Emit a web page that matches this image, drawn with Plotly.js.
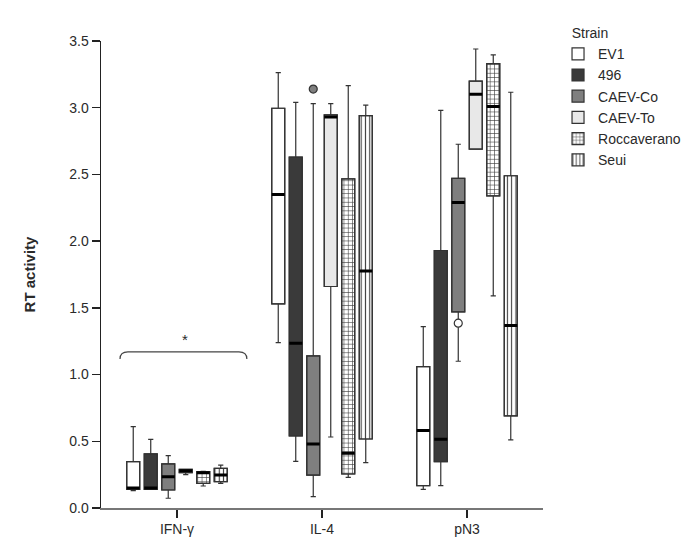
<!DOCTYPE html>
<html>
<head>
<meta charset="utf-8">
<script src="https://cdn.plot.ly/plotly-3.0.1.min.js"></script>
<style>
  body { margin: 0; background: #fff; }
  #chart { width: 685px; height: 554px; }
</style>
</head>
<body>
<div id="chart"></div>
<script>
// categorias y cepas
const cytokines = ['IFN-γ', 'IL-4', 'pN3'];
const strains = ['EV1', '496', 'CAEV-Co', 'CAEV-To', 'Roccaverano', 'Seui'];

// estadisticos de cada caja, una fila por cepa (IFN-γ, IL-4, pN3)
const lowerFence = [
  [0.13, 1.24, 0.14],
  [0.14, 0.35, 0.167],
  [0.073, 0.085, 1.10],
  [0.25, 0.532, 2.69],
  [0.165, 0.23, 1.59],
  [0.185, 0.34, 0.51]
];
const q1Values = [
  [0.14, 1.53, 0.167],
  [0.14, 0.54, 0.347],
  [0.135, 0.247, 1.47],
  [0.265, 1.66, 2.69],
  [0.185, 0.255, 2.34],
  [0.197, 0.517, 0.69]
];
const medians = [
  [0.15, 2.35, 0.58],
  [0.15, 1.235, 0.515],
  [0.235, 0.48, 2.29],
  [0.28, 2.93, 3.10],
  [0.265, 0.41, 3.01],
  [0.247, 1.777, 1.367]
];
const q3Values = [
  [0.347, 2.996, 1.06],
  [0.405, 2.63, 1.93],
  [0.33, 1.14, 2.47],
  [0.29, 2.946, 3.20],
  [0.272, 2.466, 3.33],
  [0.297, 2.94, 2.49]
];
const upperFence = [
  [0.61, 3.263, 1.36],
  [0.515, 3.04, 2.98],
  [0.392, 3.03, 2.726],
  [0.29, 3.03, 3.44],
  [0.275, 3.166, 3.396],
  [0.322, 3.02, 3.116]
];

// valores atipicos (CAEV-Co)
const outlierStrain = 'CAEV-Co';
const outlierCats = ['IL-4', 'pN3'];
const outlierValues = [3.14, 1.385];

// estilos
const fillColors = ['#ffffff', '#3a3a3a', '#7f7f7f', '#e8e8e8', '#ffffff', '#ffffff'];
const patterns = ['', '', '', '', '+', '|'];
const edge = '#333333';
const font = 'Liberation Sans, Arial, sans-serif';
const txt = '#2a2a2a';

let traces = [];

// cajas rellenas (y simbolos de la leyenda)
strains.forEach((s, i) => {
  traces.push({
    type: 'bar',
    name: s,
    x: cytokines,
    base: q1Values[i],
    y: q3Values[i].map((v, j) => v - q1Values[i][j]),
    offsetgroup: s,
    marker: {
      color: fillColors[i],
      line: { color: edge, width: 1.2 },
      pattern: { shape: patterns[i], size: 4.3, fgcolor: '#3a3a3a', bgcolor: '#ffffff', solidity: 0.25 }
    },
    hoverinfo: 'skip'
  });
});

// bigotes y contorno
strains.forEach((s, i) => {
  traces.push({
    type: 'box',
    name: s,
    x: cytokines,
    q1: q1Values[i],
    median: medians[i],
    q3: q3Values[i],
    lowerfence: lowerFence[i],
    upperfence: upperFence[i],
    offsetgroup: s,
    fillcolor: 'rgba(0,0,0,0)',
    line: { color: edge, width: 1.2 },
    whiskerwidth: 0.4,
    showlegend: false,
    hoverinfo: 'skip'
  });
});

// medianas gruesas
strains.forEach((s, i) => {
  traces.push({
    type: 'box',
    name: s + ' mediana',
    x: cytokines,
    q1: medians[i],
    median: medians[i],
    q3: medians[i],
    lowerfence: medians[i],
    upperfence: medians[i],
    offsetgroup: s,
    fillcolor: 'rgba(0,0,0,0)',
    line: { color: '#000', width: 3 },
    whiskerwidth: 0,
    showlegend: false,
    hoverinfo: 'skip'
  });
});

// atipicos: uno relleno y uno hueco
outlierCats.forEach((c, k) => {
  traces.push({
    type: 'box',
    name: outlierStrain + ' outlier',
    x: [c],
    y: [outlierValues[k]],
    offsetgroup: outlierStrain,
    boxpoints: 'all',
    jitter: 0,
    pointpos: 0,
    fillcolor: 'rgba(0,0,0,0)',
    line: { width: 0, color: 'rgba(0,0,0,0)' },
    marker: {
      size: 8,
      color: k === 0 ? '#7f7f7f' : '#ffffff',
      line: { color: edge, width: 1.2 }
    },
    showlegend: false,
    hoverinfo: 'skip'
  });
});

const layout = {
  width: 685,
  height: 554,
  margin: { l: 101, r: 142, t: 41, b: 46, autoexpand: false },
  paper_bgcolor: '#fff',
  plot_bgcolor: '#fff',
  font: { family: font, size: 14, color: txt },
  barmode: 'group',
  boxmode: 'group',
  bargap: 0.276,
  bargroupgap: 0.257,
  boxgap: 0.276,
  boxgroupgap: 0.257,
  xaxis: {
    type: 'category',
    range: [-0.524, 2.524],
    showline: true,
    linecolor: '#777',
    linewidth: 1.5,
    ticks: 'outside',
    ticklen: 8,
    tickwidth: 1.5,
    tickcolor: '#222',
    showgrid: false,
    zeroline: false,
    tickfont: { family: font, size: 14, color: txt }
  },
  yaxis: {
    range: [0, 3.5],
    dtick: 0.5,
    tickformat: '.1f',
    showline: true,
    linecolor: '#222',
    linewidth: 1.5,
    ticks: 'outside',
    ticklen: 8,
    tickwidth: 1.5,
    tickcolor: '#222',
    showgrid: false,
    zeroline: false,
    tickfont: { family: font, size: 14, color: txt },
    title: { text: '<b>RT activity</b>', font: { family: font, size: 15, color: txt }, standoff: 30 }
  },
  legend: {
    title: { text: '&nbsp;&nbsp;&nbsp;Strain', font: { family: font, size: 14, color: txt } },
    font: { family: font, size: 14, color: txt },
    x: 1.034,
    xanchor: 'left',
    y: 1.045,
    yanchor: 'top',
    tracegroupgap: 0,
    bgcolor: 'rgba(0,0,0,0)'
  },
  shapes: [{
    type: 'path',
    xref: 'paper',
    yref: 'y',
    path: 'M0.043,1.117 Q0.043,1.17 0.061,1.17 L0.312,1.17 Q0.33,1.17 0.33,1.117',
    line: { color: '#444', width: 1.2 }
  }],
  annotations: [{
    text: '*',
    xref: 'paper',
    yref: 'y',
    x: 0.179,
    y: 1.26,
    showarrow: false,
    font: { family: font, size: 15, color: txt }
  }]
};

Plotly.newPlot('chart', traces, layout, { displayModeBar: false, staticPlot: true });
</script>
</body>
</html>
